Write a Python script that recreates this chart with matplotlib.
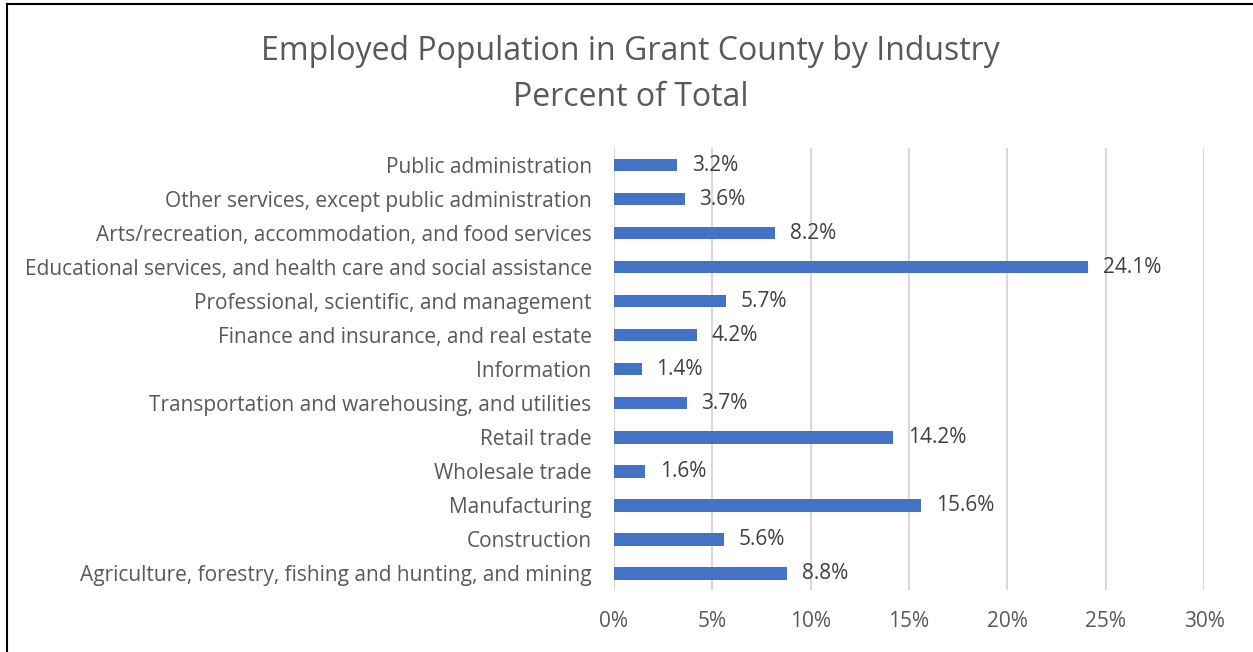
import matplotlib.pyplot as plt
from matplotlib.lines import Line2D

plt.rcParams['font.family'] = ['Open Sans', 'DejaVu Sans']

# 数据
industries = [
    "Agriculture, forestry, fishing and hunting, and mining",
    "Construction",
    "Manufacturing",
    "Wholesale trade",
    "Retail trade",
    "Transportation and warehousing, and utilities",
    "Information",
    "Finance and insurance, and real estate",
    "Professional, scientific, and management",
    "Educational services, and health care and social assistance",
    "Arts/recreation, accommodation, and food services",
    "Other services, except public administration",
    "Public administration",
]
percent = [8.8, 5.6, 15.6, 1.6, 14.2, 3.7, 1.4, 4.2, 5.7, 24.1, 8.2, 3.6, 3.2]
xticks = [0, 5, 10, 15, 20, 25, 30]

fig = plt.figure(figsize=(12.53, 6.52), dpi=100)
ax = fig.add_axes([0.49, 0.095, 0.471, 0.678])

ypos = list(range(len(industries)))
ax.barh(ypos, percent, height=0.38, color='#4472C4', zorder=3)
for y, v in zip(ypos, percent):
    ax.text(v + 0.75, y, f"{v}%", va='center', ha='left', fontsize=15, color='#404040')

ax.set_xlim(0, 30)
ax.set_ylim(-0.5, len(industries) - 0.5)
ax.set_xticks(xticks)
ax.set_xticklabels([f"{t}%" for t in xticks], fontsize=15, color='#595959')
ax.set_yticks(ypos)
ax.set_yticklabels(industries, fontsize=15, color='#595959')
ax.tick_params(length=0)
ax.tick_params(axis='y', pad=16)
ax.tick_params(axis='x', pad=15)
ax.xaxis.grid(True, color='#d9d9d9', linewidth=1.5, zorder=0)
for s in ax.spines.values():
    s.set_visible(False)

# 标题
fig.text(0.503, 1 - 51 / 652, "Employed Population in Grant County by Industry",
         ha='center', va='center', fontsize=23, color='#595959')
fig.text(0.503, 1 - 98 / 652, "Percent of Total",
         ha='center', va='center', fontsize=23, color='#595959')

# 外框
fig.add_artist(Line2D([7 / 1253, 7 / 1253], [0, 1 - 4 / 652], transform=fig.transFigure, color='black', linewidth=1.5))
fig.add_artist(Line2D([7 / 1253, 1], [1 - 4 / 652, 1 - 4 / 652], transform=fig.transFigure, color='black', linewidth=1.5))

fig.savefig("out.png", dpi=100, facecolor='white')
